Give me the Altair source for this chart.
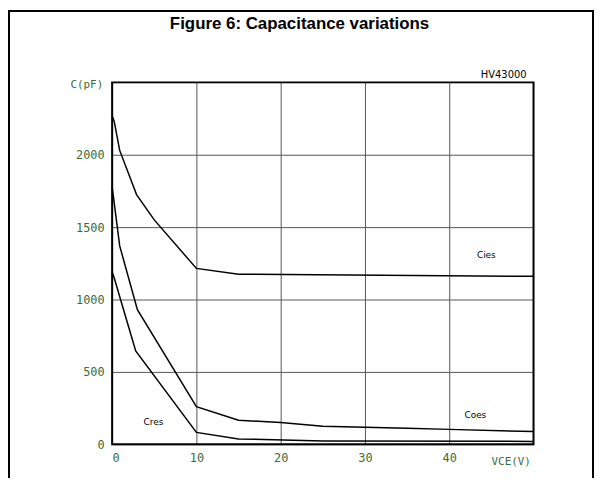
import altair as alt
import pandas as pd

# Capacitance curves (VCE in V, C in pF)
cies_v = [0, 0.25, 0.9, 2.9, 5, 10, 15, 50]
cies_c = [2270, 2230, 2030, 1725, 1550, 1215, 1175, 1160]

coes_v = [0, 0.9, 3, 10, 15, 20, 25, 35, 40, 50]
coes_c = [1780, 1370, 930, 260, 166, 150, 125, 110, 103, 88]

cres_v = [0, 0.3, 1, 2.8, 10, 15, 25, 50]
cres_c = [1190, 1140, 1000, 645, 82, 37, 23, 20]

label_names = ["Cies", "Coes", "Cres"]
label_v = [44.4, 43.1, 4.9]
label_c = [1308, 205, 157]

x_ticks = [0, 10, 20, 30, 40]
y_ticks = [0, 500, 1000, 1500, 2000]

rows = []
for name, vs, cs in [("Cies", cies_v, cies_c), ("Coes", coes_v, coes_c), ("Cres", cres_v, cres_c)]:
    for v, c in zip(vs, cs):
        rows.append({"series": name, "vce": v, "c": c})
df = pd.DataFrame(rows)
lab_df = pd.DataFrame({"label": label_names, "vce": label_v, "c": label_c})

GREEN = "#3b6b3b"
W, H = 425, 365
PL, PT, PR, PB = 105, 73, 61, 32

x_enc = alt.X(
    "vce:Q",
    scale=alt.Scale(domain=[0, 50], nice=False, zero=False),
    axis=alt.Axis(
        values=x_ticks, format="d", title="VCE(V)", grid=True, gridColor="#555555", gridWidth=1,
        domain=False, ticks=False, labelColor=GREEN, labelFont="DejaVu Sans Mono",
        labelFontSize=12, labelPadding=8, labelBaseline="top",
        titleColor=GREEN, titleFont="DejaVu Sans Mono", titleFontSize=11, titleFontWeight="normal",
        titleX=402, titleY=17, titleAlign="center", titleBaseline="middle",
    ),
)
y_enc = alt.Y(
    "c:Q",
    scale=alt.Scale(domain=[0, 2500], nice=False),
    axis=alt.Axis(
        values=y_ticks, format="d", title="C(pF)", grid=True, gridColor="#555555", gridWidth=1,
        domain=False, ticks=False, labelColor=GREEN, labelFont="DejaVu Sans Mono",
        labelFontSize=12, labelPadding=8,
        titleColor=GREEN, titleFont="DejaVu Sans Mono", titleFontSize=11, titleFontWeight="normal",
        titleAngle=0, titleX=-26, titleY=2, titleAlign="center", titleBaseline="middle",
    ),
)

lines = alt.Chart(df).mark_line(color="black", strokeWidth=1.5).encode(
    x=x_enc, y=y_enc, detail="series:N", order="vce:Q"
)

labels = alt.Chart(lab_df).mark_text(
    fontSize=9, font="DejaVu Sans", color="black"
).encode(x="vce:Q", y="c:Q", text="label:N")

tag = alt.Chart(pd.DataFrame({"t": ["HV43000"]})).mark_text(
    align="right", baseline="middle", fontSize=10, font="DejaVu Sans", color="black"
).encode(x=alt.value(418), y=alt.value(-7), text="t:N")

title = alt.Chart(pd.DataFrame({"t": ["Figure 6: Capacitance variations"]})).mark_text(
    align="center", baseline="alphabetic", fontSize=17, fontWeight="bold",
    font="Liberation Sans", color="black"
).encode(x=alt.value(189), y=alt.value(-54), text="t:N")

frame = alt.Chart(pd.DataFrame({"k": [0]})).mark_rect(
    fillOpacity=0, stroke="black", strokeWidth=2
).encode(
    x=alt.value(-PL + 1), x2=alt.value(W + PR - 1),
    y=alt.value(-PT + 1), y2=alt.value(H + PB + 40),
)

plot_border = alt.Chart(pd.DataFrame({"k": [0]})).mark_rect(
    fillOpacity=0, stroke="black", strokeWidth=2
).encode(
    x=alt.value(0), x2=alt.value(W), y=alt.value(0), y2=alt.value(H),
)

chart = alt.layer(frame, lines, plot_border, labels, tag, title).properties(
    width=W, height=H,
    autosize=alt.AutoSizeParams(type="none"),
    padding={"left": PL, "top": PT, "right": PR, "bottom": PB},
).configure_view(stroke=None).configure(background="white")

chart.save("out.html", embed_options={"renderer": "svg", "actions": False})
